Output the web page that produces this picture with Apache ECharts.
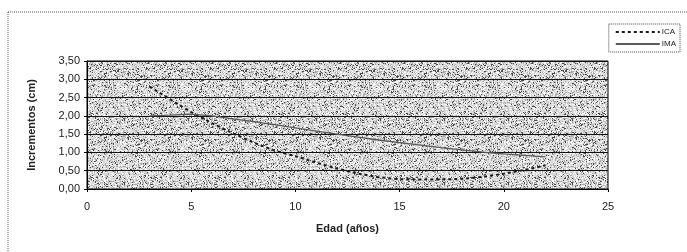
<!DOCTYPE html>
<html>
<head>
<meta charset="utf-8">
<script src="https://cdn.jsdelivr.net/npm/echarts@6/dist/echarts.min.js"></script>
<style>
html,body{margin:0;padding:0;background:#fff;}
#chart{width:687px;height:252px;}
</style>
</head>
<body>
<div id="chart"></div>
<script>
var edad = [3,4,5,6,7,8,9,10,11,12,13,14,15,16,17,18,19,20,21,22];
var ica = [2.80,2.45,2.10,1.80,1.52,1.27,1.05,0.90,0.72,0.56,0.42,0.32,0.27,0.26,0.26,0.28,0.33,0.42,0.52,0.65];
var ima = [2.00,2.02,2.05,2.00,1.92,1.84,1.76,1.67,1.58,1.50,1.42,1.34,1.27,1.20,1.13,1.07,1.01,0.96,0.92,0.88];
var xTicks = [0,5,10,15,20,25];

function pairs(ys){
    return edad.map(function(x,i){ return [x, ys[i]]; });
}

// stippled grey fill for the plot area
function stipple(){
    var c = document.createElement('canvas');
    c.width = 64; c.height = 64;
    var g = c.getContext('2d');
    g.fillStyle = '#d9d9d9';
    g.fillRect(0,0,64,64);
    var s = 7;
    for (var y = 0; y < 64; y++) {
        for (var x = 0; x < 64; x++) {
            s = (s * 1103515245 + 12345) & 0x7fffffff;
            var r = (s >> 8) % 100;
            if (r < 11) { g.fillStyle = '#4a4a4a'; g.fillRect(x,y,1,1); }
            else if (r < 26) { g.fillStyle = '#a8a8a8'; g.fillRect(x,y,1,1); }
            else if (r < 52) { g.fillStyle = '#fbfbfb'; g.fillRect(x,y,1,1); }
        }
    }
    return c;
}

var chart = echarts.init(document.getElementById('chart'));
chart.setOption({
    animation: false,
    textStyle: {fontFamily: 'Liberation Sans, Arial, sans-serif'},
    grid: {
        left: 87, right: 79, top: 61, bottom: 63,
        show: true,
        backgroundColor: {image: stipple(), repeat: 'repeat'},
        borderColor: '#000',
        borderWidth: 1
    },
    legend: {
        right: 7, top: 24,
        orient: 'vertical',
        itemWidth: 44, itemHeight: 8, itemGap: 4,
        padding: [4,4,4,6],
        backgroundColor: '#fff',
        borderColor: '#444', borderWidth: 1, borderType: 'dotted',
        itemStyle: {opacity: 0},
        textStyle: {fontSize: 8, color: '#222', padding: [0,0,0,-3]},
        data: ['ICA', 'IMA']
    },
    xAxis: {
        type: 'value', min: 0, max: 25, interval: 5,
        name: 'Edad (años)', nameLocation: 'middle', nameGap: 34,
        nameTextStyle: {fontSize: 11, fontWeight: 'bold', color: '#222'},
        axisLine: {lineStyle: {color: '#000'}},
        axisTick: {show: true, length: 3, lineStyle: {color: '#000'}},
        axisLabel: {fontSize: 11, color: '#222', margin: 12,
            formatter: function(v){ return xTicks.indexOf(v) >= 0 ? String(v) : ''; }},
        splitLine: {show: false}
    },
    yAxis: {
        type: 'value', min: 0, max: 3.5, interval: 0.5,
        name: 'Incrementos (cm)', nameLocation: 'middle', nameGap: 50,
        nameTextStyle: {fontSize: 11, fontWeight: 'bold', color: '#222'},
        axisLine: {show: true, lineStyle: {color: '#000'}},
        axisTick: {show: true, length: 3, lineStyle: {color: '#000'}},
        axisLabel: {fontSize: 11, color: '#222', margin: 7,
            formatter: function(v){ return v.toFixed(2).replace('.', ','); }},
        splitLine: {show: true, lineStyle: {color: '#111', width: 1.2}}
    },
    series: [
        {
            name: 'ICA', type: 'line', data: pairs(ica),
            symbol: 'none',
            lineStyle: {color: '#1a1a1a', width: 2, type: [3,3]},
            itemStyle: {color: '#1a1a1a'}
        },
        {
            name: 'IMA', type: 'line', data: pairs(ima),
            symbol: 'none',
            lineStyle: {color: '#5a5a5a', width: 1.3, type: 'solid'},
            itemStyle: {color: '#5a5a5a'}
        }
    ],
    graphic: [
        {type: 'line', shape: {x1: 8, y1: 12, x2: 687, y2: 12},
            style: {stroke: '#555', lineWidth: 1, lineDash: [1,1]}},
        {type: 'line', shape: {x1: 8, y1: 12, x2: 8, y2: 252},
            style: {stroke: '#555', lineWidth: 1, lineDash: [1,1]}}
    ]
});
</script>
</body>
</html>
